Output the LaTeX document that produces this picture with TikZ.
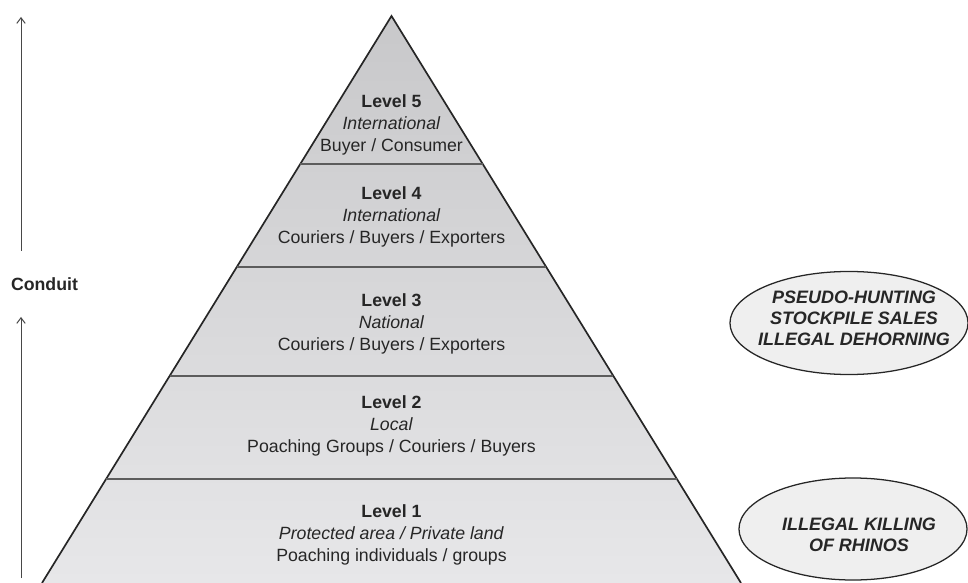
\documentclass[tikz,border=0pt]{standalone}
\usepackage{fontspec}
\setmainfont{Liberation Sans}
\usepackage{xcolor}
\usetikzlibrary{arrows.meta,positioning,shapes.geometric,calc}
\definecolor{pyrtop}{HTML}{C8C8CA}
\definecolor{pyrbot}{HTML}{E7E7E9}
\definecolor{bubblefill}{HTML}{EFEFEF}
\definecolor{inkgray}{HTML}{262626}

\begin{document}
\begin{tikzpicture}[x=0.025cm,y=-0.025cm,
	level/.style={align=center,text=inkgray,font=\fontsize{12.6}{15.6}\selectfont},
	bubble/.style={ellipse,draw=inkgray,line width=0.9pt,fill=bubblefill,inner sep=0pt},
	bubbletext/.style={align=center,text=inkgray,font=\fontsize{12.8}{15}\selectfont\bfseries\itshape},
	conduitarrow/.style={draw=inkgray!85,line width=0.7pt,-{Straight Barb[length=4pt,width=6pt]}}]
	\useasboundingbox (0,0) rectangle (968,583);
	% pyramid
	\coordinate (apex) at (391.5,16);
	\coordinate (bl) at (42,583);
	\coordinate (br) at (741,583);
	\shade[top color=pyrtop,bottom color=pyrbot] (apex) -- (bl) -- (br) -- cycle;
	\draw[inkgray,line width=1.2pt] (bl) -- (apex) -- (br);
	\foreach \t/\n in {0.261/a,0.4427/b,0.635/c,0.8166/d}{
		\coordinate (l\n) at ($(apex)!\t!(bl)$);
		\coordinate (r\n) at ($(apex)!\t!(br)$);
		\draw[inkgray!75,line width=0.8pt] (l\n) -- (r\n);
	}
	% levels
	\node[level] (lev5) at (391.5,125) {\textbf{Level 5}\\\textit{International}\\Buyer / Consumer};
	\node[level] (lev4) at (391.5,217) {\textbf{Level 4}\\\textit{International}\\Couriers / Buyers / Exporters};
	\node[level] (lev3) at (391.5,324) {\textbf{Level 3}\\\textit{National}\\Couriers / Buyers / Exporters};
	\node[level] (lev2) at (391.5,426) {\textbf{Level 2}\\\textit{Local}\\Poaching Groups / Couriers / Buyers};
	\node[level] (lev1) at (391.5,535) {\textbf{Level 1}\\\textit{Protected area / Private land}\\Poaching individuals / groups};
	% conduit
	\node[level,font=\fontsize{12.6}{15.6}\selectfont\bfseries] (conduit) at (44.5,284) {Conduit};
	\coordinate (uptop) at (21,17);
	\coordinate (upbot) at (21,251);
	\coordinate (lowtop) at (21,317);
	\coordinate (lowbot) at (21,578);
	\draw[conduitarrow] (upbot) -- (uptop);
	\draw[conduitarrow] (lowbot) -- (lowtop);
	% activities
	\node[bubble,minimum width=5.95cm,minimum height=2.575cm,
		label={[bubbletext,shift={(5,-5)}]center:PSEUDO-HUNTING\\STOCKPILE SALES\\ILLEGAL DEHORNING}] (hunt) at (849,323) {};
	\node[bubble,minimum width=5.7cm,minimum height=2.55cm,
		label={[bubbletext,shift={(6,6)}]center:ILLEGAL KILLING\\OF RHINOS}] (kill) at (853,529) {};
\end{tikzpicture}
\end{document}
